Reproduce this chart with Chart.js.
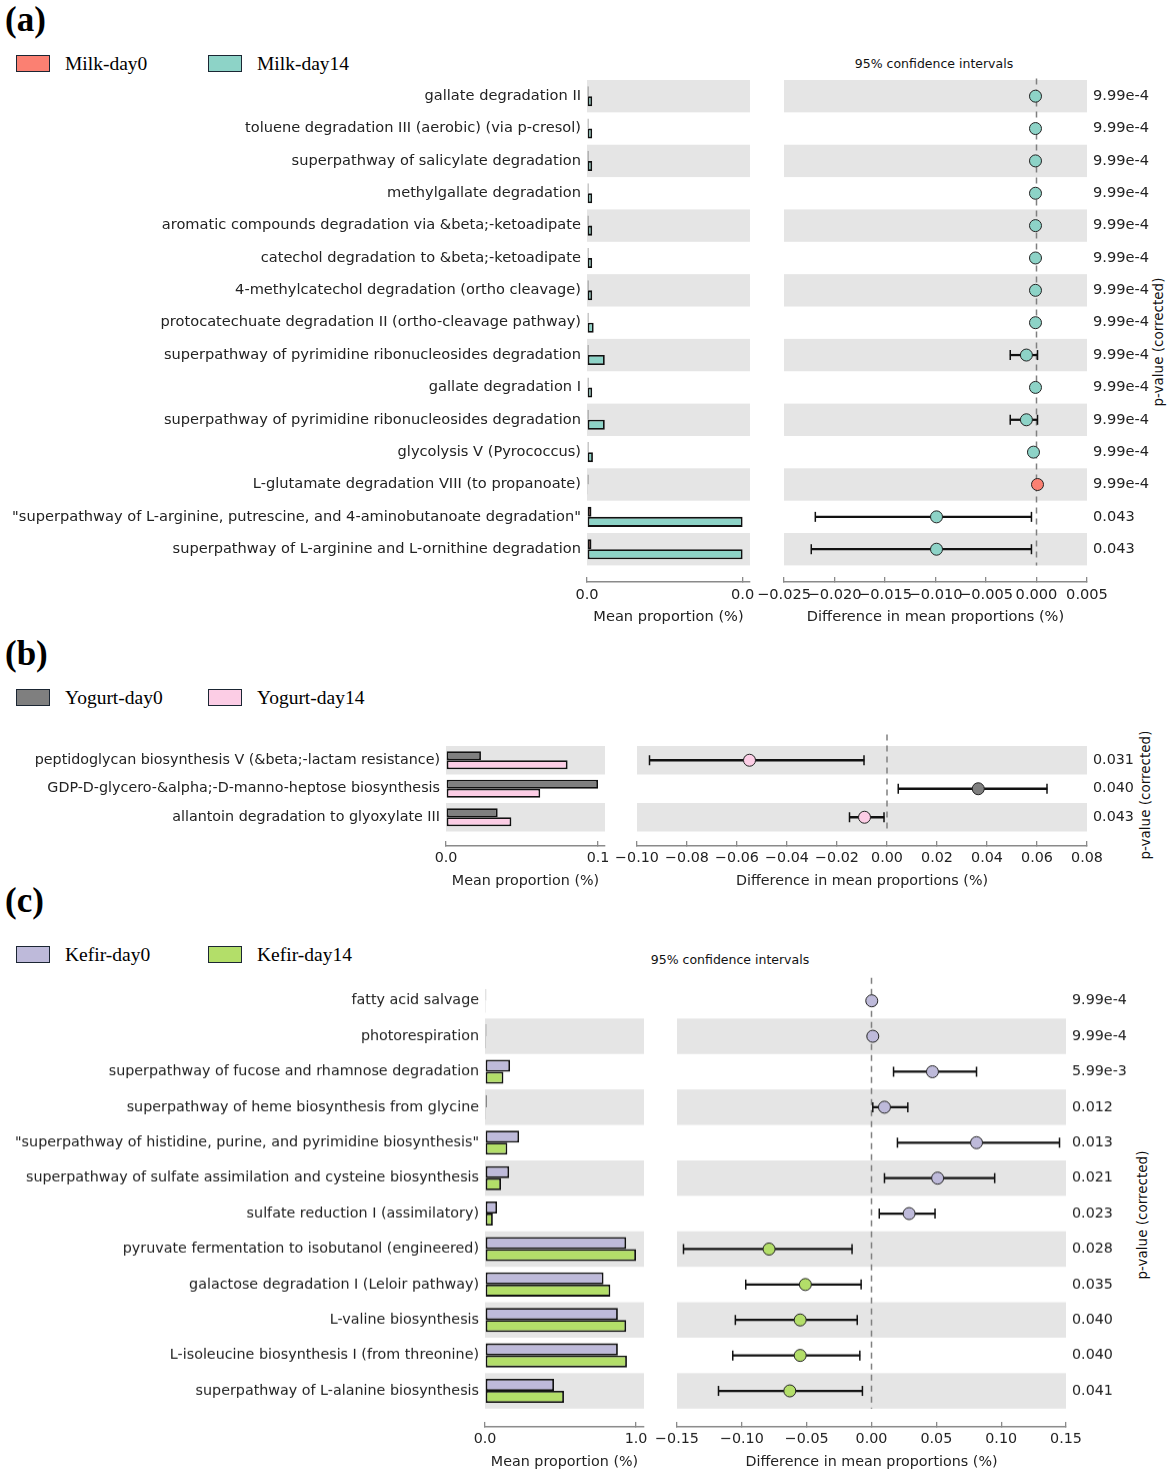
<!DOCTYPE html>
<html>
<head>
<meta charset="utf-8">
<script src="https://cdn.jsdelivr.net/npm/chart.js@4.4.1/dist/chart.umd.min.js"></script>
<style>
  body { margin: 0; background: #fff; width: 1170px; height: 1476px; position: relative; overflow: hidden; font-family: "DejaVu Sans", sans-serif; }
  canvas { position: absolute; }
  .tag { position: absolute; left: 5px; font: bold 35px "Liberation Serif", serif; line-height: 35px; color: #000; }
  .key { position: absolute; width: 34px; height: 17px; border: 1.5px solid #1b2633; box-sizing: border-box; }
  .keytxt { position: absolute; font: 19.5px "Liberation Serif", serif; line-height: 20px; color: #000; }
  .ci { position: absolute; font: 12.5px "DejaVu Sans", sans-serif; transform: translate(-50%, -50%); white-space: nowrap; color: #111; }
  .pv { position: absolute; font: 13.5px "DejaVu Sans", sans-serif; transform: translate(-50%, -50%) rotate(-90deg); white-space: nowrap; color: #111; }
</style>
</head>
<body>

<div class="tag" style="top:2px">(a)</div>
<div class="key" style="left:16px;top:55px;background:#fb8072"></div>
<div class="keytxt" style="left:65px;top:54px">Milk-day0</div>
<div class="key" style="left:208px;top:55px;background:#8dd3c7"></div>
<div class="keytxt" style="left:257px;top:54px">Milk-day14</div>
<div class="ci" style="left:934px;top:63px">95% confidence intervals</div>
<div class="pv" style="left:1158px;top:342px">p-value (corrected)</div>

<div class="tag" style="top:636px">(b)</div>
<div class="key" style="left:16px;top:689px;background:#7f7f7f"></div>
<div class="keytxt" style="left:65px;top:688px">Yogurt-day0</div>
<div class="key" style="left:208px;top:689px;background:#fccde5"></div>
<div class="keytxt" style="left:257px;top:688px">Yogurt-day14</div>
<div style="position:absolute;left:1100px;top:732px;width:70px;height:150px;overflow:hidden">
  <div class="pv" style="left:45px;top:63px">p-value (corrected)</div>
</div>

<div class="tag" style="top:883px">(c)</div>
<div class="key" style="left:16px;top:946px;background:#bebada"></div>
<div class="keytxt" style="left:65px;top:945px">Kefir-day0</div>
<div class="key" style="left:208px;top:946px;background:#b3de69"></div>
<div class="keytxt" style="left:257px;top:945px">Kefir-day14</div>
<div class="ci" style="left:730px;top:959px">95% confidence intervals</div>
<div class="pv" style="left:1142px;top:1215px">p-value (corrected)</div>

<script>
// ---- (a) milk ----
const milkNames = [
  'gallate degradation II',
  'toluene degradation III (aerobic) (via p-cresol)',
  'superpathway of salicylate degradation',
  'methylgallate degradation',
  'aromatic compounds degradation via &beta;-ketoadipate',
  'catechol degradation to &beta;-ketoadipate',
  '4-methylcatechol degradation (ortho cleavage)',
  'protocatechuate degradation II (ortho-cleavage pathway)',
  'superpathway of pyrimidine ribonucleosides degradation',
  'gallate degradation I',
  'superpathway of pyrimidine ribonucleosides degradation',
  'glycolysis V (Pyrococcus)',
  'L-glutamate degradation VIII (to propanoate)',
  '"superpathway of L-arginine, putrescine, and 4-aminobutanoate degradation"',
  'superpathway of L-arginine and L-ornithine degradation'
];
const milkDay0 = [0.0001, 0.0001, 0.0001, 0.0001, 0.0001, 0.0001, 0.0001, 0.0001, 0.0001, 0.0001, 0.0001, 0.0001, 0.0001, 0.0003, 0.0003];
const milkDay14 = [0.00035, 0.00035, 0.00035, 0.00035, 0.00035, 0.00035, 0.00035, 0.00045, 0.0012, 0.00035, 0.0012, 0.0004, 0.00003, 0.0105, 0.0105];
const milkDiff = [-0.0001, -0.0001, -0.0001, -0.0001, -0.0001, -0.0001, -0.0001, -0.0001, -0.001, -0.0001, -0.001, -0.0003, 0.0001, -0.0099, -0.0099];
const milkLow = [-0.0002, -0.0002, -0.0002, -0.0002, -0.0002, -0.0002, -0.0002, -0.0002, -0.0026, -0.0002, -0.0026, -0.0006, 0.0, -0.0219, -0.0223];
const milkHigh = [0.0, 0.0, 0.0, 0.0, 0.0, 0.0, 0.0, 0.0, 0.0001, 0.0, 0.0001, -0.0001, 0.0002, -0.0005, -0.0005];
const milkP = ['9.99e-4', '9.99e-4', '9.99e-4', '9.99e-4', '9.99e-4', '9.99e-4', '9.99e-4', '9.99e-4', '9.99e-4', '9.99e-4', '9.99e-4', '9.99e-4', '9.99e-4', '0.043', '0.043'];
const milkPropTicks = [0, 0.0105];
const milkDiffTicks = [-0.025, -0.02, -0.015, -0.01, -0.005, 0, 0.005];

// ---- (b) yogurt ----
const yogurtNames = [
  'peptidoglycan biosynthesis V (&beta;-lactam resistance)',
  'GDP-D-glycero-&alpha;-D-manno-heptose biosynthesis',
  'allantoin degradation to glyoxylate III'
];
const yogurtDay0 = [0.023, 0.100, 0.034];
const yogurtDay14 = [0.080, 0.062, 0.043];
const yogurtDiff = [-0.055, 0.0365, -0.009];
const yogurtLow = [-0.095, 0.0045, -0.015];
const yogurtHigh = [-0.0092, 0.064, -0.0012];
const yogurtP = ['0.031', '0.040', '0.043'];
const yogurtPropTicks = [0, 0.1];
const yogurtDiffTicks = [-0.10, -0.08, -0.06, -0.04, -0.02, 0, 0.02, 0.04, 0.06, 0.08];

// ---- (c) kefir ----
const kefirNames = [
  'fatty acid salvage',
  'photorespiration',
  'superpathway of fucose and rhamnose degradation',
  'superpathway of heme biosynthesis from glycine',
  '"superpathway of histidine, purine, and pyrimidine biosynthesis"',
  'superpathway of sulfate assimilation and cysteine biosynthesis',
  'sulfate reduction I (assimilatory)',
  'pyruvate fermentation to isobutanol (engineered)',
  'galactose degradation I (Leloir pathway)',
  'L-valine biosynthesis',
  'L-isoleucine biosynthesis I (from threonine)',
  'superpathway of L-alanine biosynthesis'
];
const kefirDay0 = [0.008, 0.009, 0.166, 0.011, 0.226, 0.160, 0.080, 0.935, 0.785, 0.88, 0.88, 0.457];
const kefirDay14 = [0.006, 0.007, 0.122, 0.006, 0.148, 0.106, 0.052, 1.0, 0.83, 0.935, 0.94, 0.523];
const kefirDiff = [0.0002, 0.001, 0.047, 0.010, 0.081, 0.051, 0.029, -0.079, -0.051, -0.055, -0.055, -0.063];
const kefirLow = [0.0, 0.0, 0.017, 0.001, 0.020, 0.010, 0.006, -0.145, -0.097, -0.105, -0.107, -0.118];
const kefirHigh = [0.0004, 0.002, 0.081, 0.028, 0.145, 0.095, 0.049, -0.015, -0.008, -0.011, -0.009, -0.007];
const kefirP = ['9.99e-4', '9.99e-4', '5.99e-3', '0.012', '0.013', '0.021', '0.023', '0.028', '0.035', '0.040', '0.040', '0.041'];
const kefirPropTicks = [0, 1.0];
const kefirDiffTicks = [-0.15, -0.10, -0.05, 0, 0.05, 0.10, 0.15];

const INK = '#222';
const SPINE = '#8a8a8a';
const AXIS_H = 45;

function fmt(dec) {
  return (v) => Number(v).toFixed(dec).replace('-', '\u2212');
}

// grey stripes behind alternate rows
const bandPlugin = {
  id: 'bands',
  beforeDatasetsDraw(chart, args, opts) {
    const { ctx, chartArea: a, scales: { y } } = chart;
    ctx.save();
    ctx.fillStyle = '#e5e5e5';
    for (let i = opts.first; i < opts.rows; i += 2) {
      const t = y.getPixelForValue(i - 0.5);
      const b = y.getPixelForValue(i + 0.5);
      ctx.fillRect(a.left, t, a.right - a.left, b - t);
    }
    ctx.restore();
  }
};

function addCanvas(left, top, w, h) {
  const c = document.createElement('canvas');
  c.width = w; c.height = h;
  c.style.left = left + 'px'; c.style.top = top + 'px';
  c.style.width = w + 'px'; c.style.height = h + 'px';
  document.body.appendChild(c);
  return c;
}

function rowAxis(n, gap, labels, position, width, font) {
  return {
    type: 'linear', position, reverse: true, offset: false, min: -0.5, max: n - 0.5 + gap,
    afterBuildTicks: (s) => { s.ticks = labels.map((_, i) => ({ value: i })); },
    afterFit: (s) => { s.width = width; },
    grid: { display: false, drawTicks: false, offset: false },
    border: { display: false },
    ticks: { autoSkip: false, padding: 6, color: INK, font, callback: (v) => labels[v] }
  };
}

// matplotlib-style spine: tick marks point up into the gap above the axis
function valueAxis(min, max, ticks, dec, title, font) {
  return {
    type: 'linear', min, max, offset: false,
    afterBuildTicks: (s) => { s.ticks = ticks.map((v) => ({ value: v })); },
    afterFit: (s) => { s.height = AXIS_H; },
    grid: { display: true, offset: false, drawOnChartArea: false, drawTicks: true, tickLength: -5, color: SPINE, lineWidth: 1.3 },
    border: { display: true, color: SPINE, width: 1.5 },
    ticks: { autoSkip: false, maxRotation: 0, minRotation: 0, padding: 9, color: INK, font, callback: fmt(dec) },
    title: { display: true, text: title, color: INK, font, padding: { top: 4, bottom: 1 } }
  };
}

function panel(p) {
  const n = p.names.length;
  const gapRows = p.gap / p.step;
  const H = n * p.step + p.gap;
  const font = { family: 'DejaVu Sans', size: p.fs };
  const rows = (arr) => arr.map((v, i) => ({ x: v, y: i }));

  // mean proportion bars
  const padTop = 20;
  const bc = addCanvas(0, p.top - padTop, p.barR + 20, padTop + H + AXIS_H);
  new Chart(bc, {
    type: 'bar',
    plugins: [bandPlugin],
    data: {
      datasets: [
        { data: rows(p.day0), backgroundColor: p.c0, borderColor: '#111', borderWidth: 1.8, borderSkipped: false, categoryPercentage: p.cat, barPercentage: 1 },
        { data: rows(p.day14), backgroundColor: p.c14, borderColor: '#111', borderWidth: 1.8, borderSkipped: false, categoryPercentage: p.cat, barPercentage: 1 }
      ]
    },
    options: {
      indexAxis: 'y', responsive: false, animation: false, events: [],
      layout: { padding: { top: padTop, right: 20, bottom: 0, left: 0 } },
      plugins: { legend: { display: false }, tooltip: { enabled: false }, bands: { first: p.band, rows: n } },
      scales: {
        x: valueAxis(0, p.propMax, p.propTicks, 1, 'Mean proportion (%)', font),
        y: rowAxis(n, gapRows, p.names, 'left', p.barL, font)
      }
    }
  });

  // confidence intervals
  const ciPad = 32;
  const cc = addCanvas(p.ciL - 35, p.top - ciPad, 35 + (p.ciR - p.ciL) + 75, ciPad + H + AXIS_H);
  const dotColors = p.diff.map((d) => (d >= 0 ? p.c0 : p.c14));
  new Chart(cc, {
    type: 'bar',
    plugins: [bandPlugin],
    data: {
      datasets: [
        { type: 'scatter', data: rows(p.diff), backgroundColor: dotColors, borderColor: '#222', borderWidth: 1, pointRadius: 6, pointHoverRadius: 6 },
        { type: 'scatter', data: rows(p.low).concat(rows(p.high)), pointStyle: 'line', rotation: 90, pointRadius: 5, borderColor: '#111', borderWidth: 1.5 },
        { type: 'bar', indexAxis: 'y', data: p.low.map((v, i) => ({ x: [v, p.high[i]], y: i })), backgroundColor: '#111', borderWidth: 0, barThickness: 1.6 },
        { type: 'line', data: [{ x: 0, y: p.zeroTop }, { x: 0, y: n - 0.5 }], borderColor: '#808080', borderDash: [6, 5], borderWidth: 1.5, pointRadius: 0, clip: false }
      ]
    },
    options: {
      responsive: false, animation: false, events: [],
      layout: { padding: { top: ciPad, right: 5, bottom: 0, left: 35 } },
      plugins: { legend: { display: false }, tooltip: { enabled: false }, bands: { first: p.band, rows: n } },
      scales: {
        x: valueAxis(p.diffMin, p.diffMax, p.diffTicks, p.dec, 'Difference in mean proportions (%)', font),
        y: rowAxis(n, gapRows, p.pvals, 'right', 70, font)
      }
    }
  });
}

panel({
  names: milkNames, day0: milkDay0, day14: milkDay14, diff: milkDiff, low: milkLow, high: milkHigh, pvals: milkP,
  propTicks: milkPropTicks, propMax: 0.011, diffTicks: milkDiffTicks, diffMin: -0.025, diffMax: 0.005, dec: 3,
  c0: '#fb8072', c14: '#8dd3c7', band: 0, cat: 0.62, zeroTop: -0.55, fs: 14.6,
  top: 80, step: 32.36, gap: 16.6, barL: 587, barR: 750, ciL: 783, ciR: 1087
});

panel({
  names: yogurtNames, day0: yogurtDay0, day14: yogurtDay14, diff: yogurtDiff, low: yogurtLow, high: yogurtHigh, pvals: yogurtP,
  propTicks: yogurtPropTicks, propMax: 0.1046, diffTicks: yogurtDiffTicks, diffMin: -0.10, diffMax: 0.08, dec: 2,
  c0: '#7f7f7f', c14: '#fccde5', band: 0, cat: 0.64, zeroTop: -0.9, fs: 14.3,
  top: 745.7, step: 28.5, gap: 14.5, barL: 446, barR: 605, ciL: 637, ciR: 1087
});

panel({
  names: kefirNames, day0: kefirDay0, day14: kefirDay14, diff: kefirDiff, low: kefirLow, high: kefirHigh, pvals: kefirP,
  propTicks: kefirPropTicks, propMax: 1.053, diffTicks: kefirDiffTicks, diffMin: -0.15, diffMax: 0.15, dec: 2,
  c0: '#bebada', c14: '#b3de69', band: 1, cat: 0.68, zeroTop: -0.65, fs: 14.3,
  top: 983.3, step: 35.45, gap: 18.3, barL: 485, barR: 644, ciL: 677, ciR: 1066
});
</script>
</body>
</html>
